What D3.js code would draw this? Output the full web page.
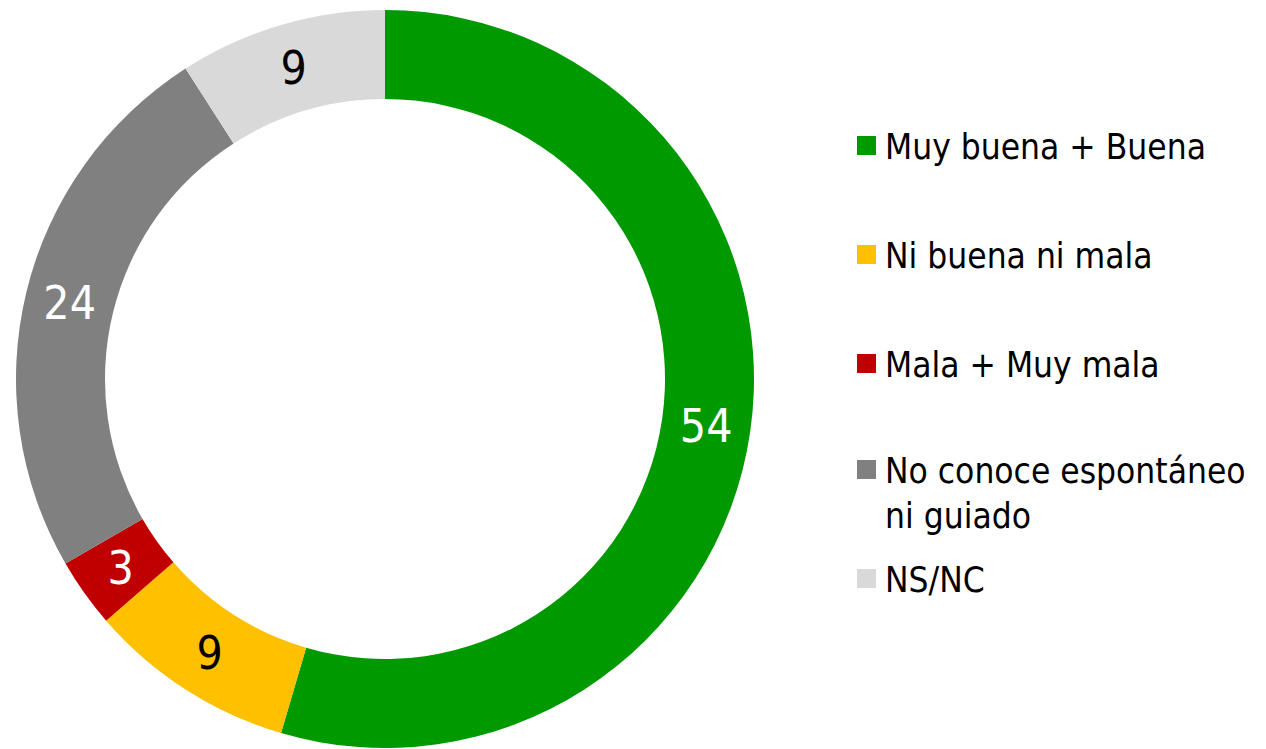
<!DOCTYPE html>
<html>
<head>
<meta charset="utf-8">
<script src="https://cdn.jsdelivr.net/npm/d3@7"></script>
<style>
  body { margin: 0; background: #fff; }
  svg { display: block; font-family: "DejaVu Sans Condensed", "DejaVu Sans", sans-serif; }
</style>
</head>
<body>
<div id="chart"></div>
<script>
  var categories = ["Muy buena + Buena", "Ni buena ni mala", "Mala + Muy mala", "No conoce espontáneo ni guiado", "NS/NC"];
  var values = [54, 9, 3, 24, 9];
  var colors = ["#009900", "#ffc000", "#c00000", "#808080", "#d9d9d9"];
  var labelColors = ["#fff", "#000", "#fff", "#fff", "#000"];
  var legendLines = [["Muy buena + Buena"], ["Ni buena ni mala"], ["Mala + Muy mala"], ["No conoce espontáneo", "ni guiado"], ["NS/NC"]];

  var width = 1266, height = 749;
  var cx = 385, cy = 379, outerR = 369, innerR = 280;

  var svg = d3.select("#chart").append("svg")
    .attr("width", width).attr("height", height);

  var pie = d3.pie().sort(null).value(function(d) { return d; });
  var arc = d3.arc().innerRadius(innerR).outerRadius(outerR);
  var arcs = pie(values);

  var g = svg.append("g").attr("transform", "translate(" + cx + "," + cy + ")");

  g.selectAll("path").data(arcs).enter().append("path")
    .attr("d", arc)
    .attr("fill", function(d, i) { return colors[i]; });

  g.selectAll("text").data(arcs).enter().append("text")
    .attr("transform", function(d) { return "translate(" + arc.centroid(d) + ")"; })
    .attr("text-anchor", "middle")
    .attr("dy", "0.36em")
    .attr("font-size", 46)
    .attr("fill", function(d, i) { return labelColors[i]; })
    .text(function(d) { return d.data; });

  // legend
  var legendY = [159, 268, 377, 483, 592];
  var leg = svg.append("g");
  categories.forEach(function(c, i) {
    leg.append("rect")
      .attr("x", 857).attr("y", legendY[i] - 23)
      .attr("width", 19).attr("height", 19)
      .attr("fill", colors[i]);
    var t = leg.append("text")
      .attr("x", 885).attr("y", legendY[i])
      .attr("font-size", 35)
      .attr("fill", "#000");
    legendLines[i].forEach(function(line, j) {
      t.append("tspan").attr("x", 885).attr("y", legendY[i] + j * 45).text(line);
    });
  });
</script>
</body>
</html>
